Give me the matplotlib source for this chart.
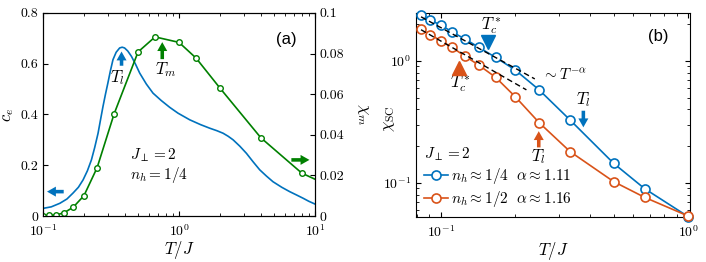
import numpy as np
import matplotlib
matplotlib.use("Agg")
import matplotlib.pyplot as plt
from matplotlib.ticker import FuncFormatter

plt.rcParams["font.family"] = "serif"
plt.rcParams["font.serif"] = ["cmr10", "DejaVu Serif"]
plt.rcParams["mathtext.fontset"] = "cm"
plt.rcParams["axes.formatter.use_mathtext"] = True
plt.rcParams["font.size"] = 9

blue = "#0072BD"
orange = "#D95319"
green = "#008000"

# ---- panel (a): specific heat c_e (left) and chi_m (right) ----
T_ce = [0.100, 0.115, 0.133, 0.150, 0.166, 0.182, 0.197, 0.212, 0.227, 0.240,
        0.254, 0.265, 0.276, 0.288, 0.300, 0.313, 0.327, 0.345, 0.366, 0.382,
        0.398, 0.420, 0.447, 0.480, 0.514, 0.575, 0.644, 0.740, 0.855, 0.984,
        1.199, 1.44, 1.68, 1.90, 2.11, 2.30, 2.50, 2.80, 3.13, 3.50,
        3.92, 4.40, 4.91, 5.70, 6.51, 7.30, 8.17, 9.00, 10.0]
c_e = [0.030, 0.036, 0.050, 0.067, 0.090, 0.113, 0.142, 0.178, 0.221, 0.270,
       0.326, 0.380, 0.431, 0.480, 0.524, 0.572, 0.616, 0.645, 0.662, 0.665,
       0.662, 0.650, 0.629, 0.597, 0.563, 0.520, 0.484, 0.455, 0.428, 0.405,
       0.379, 0.360, 0.346, 0.336, 0.326, 0.314, 0.300, 0.275, 0.247, 0.214,
       0.182, 0.157, 0.135, 0.113, 0.096, 0.083, 0.070, 0.058, 0.047]

T_chi = [0.1, 1/9, 0.125, 1/7, 1/6, 0.2, 0.25, 1/3, 0.5, 2/3, 1.0, 4/3, 2.0, 4.0, 8.0, 16.0]
chi_m = [0.0, 0.0003, 0.0005, 0.0016, 0.0043, 0.0100, 0.0238, 0.0503, 0.0808,
         0.0882, 0.0855, 0.0778, 0.0630, 0.0385, 0.0211, 0.0118]

# ---- panel (b): chi_SC ----
T_sc = [1/12, 1/11, 1/10, 1/9, 1/8, 1/7, 1/6, 1/5, 1/4, 1/3, 1/2, 2/3, 1.0]
chi_q = [2.39, 2.15, 1.98, 1.73, 1.52, 1.29, 1.07, 0.843, 0.578, 0.327, 0.144, 0.0893, 0.0526]
chi_h = [1.82, 1.636, 1.47, 1.29, 1.10, 0.921, 0.734, 0.509, 0.311, 0.180, 0.102, 0.0758, 0.0532]
alpha = [1.11, 1.16]
amp = [0.146, 0.101]
fit_range = [(1/12, 0.24), (1/12, 0.222)]

fig = plt.figure(figsize=(7.06, 2.62), dpi=100)

# panel (a)
ax = fig.add_axes([0.0609, 0.1756, 0.3853, 0.775])
ax.plot(T_ce, c_e, color=blue, lw=1.2)
ax.set_xscale("log")
ax.set_xlim(0.1, 10)
ax.set_ylim(0, 0.8)
ax.set_yticks([0, 0.2, 0.4, 0.6, 0.8])
ax.yaxis.set_major_formatter(FuncFormatter(lambda v, p: "%g" % v))
ax.set_xlabel(r"$T/J$", fontsize=12, labelpad=0)
ax.set_ylabel(r"$c_e$", fontsize=12)
ax.yaxis.set_label_coords(-0.1, 0.5)
ax.tick_params(which="both", direction="in", top=True, right=False, labelsize=10)
ax.tick_params(axis="x", pad=5)

ax2 = ax.twinx()
ax2.plot(T_chi, chi_m, color=green, lw=1.2, marker="o", ms=4,
         mfc="white", mec=green, mew=1.0)
ax2.set_ylim(0, 0.1)
ax2.set_yticks([0, 0.02, 0.04, 0.06, 0.08, 0.1])
ax2.yaxis.set_major_formatter(FuncFormatter(lambda v, p: "%g" % v))
ax2.set_ylabel(r"$\chi_m$", fontsize=12, rotation=270, va="center")
ax2.yaxis.set_label_coords(1.176, 0.5)
ax2.tick_params(which="both", direction="in", labelsize=10)

arr = dict(arrowstyle="simple,head_width=0.45,head_length=0.4,tail_width=0.16",
           lw=0, mutation_scale=16, shrinkA=0, shrinkB=0)
ax.annotate("", xy=(0.378, 0.648), xytext=(0.378, 0.592),
            arrowprops=dict(arr, color=blue))
ax.text(0.351, 0.545, r"$T_l$", fontsize=12, ha="center", va="center")
ax.annotate("", xy=(0.753, 0.685), xytext=(0.753, 0.618),
            arrowprops=dict(arr, color=green))
ax.text(0.80, 0.576, r"$T_m$", fontsize=12, ha="center", va="center")
ax.annotate("", xy=(0.107, 0.096), xytext=(0.142, 0.096),
            arrowprops=dict(arr, color=blue))
ax.annotate("", xy=(9.1, 0.221), xytext=(6.7, 0.221),
            arrowprops=dict(arr, color=green))
ax.text(0.435, 0.241, r"$J_\perp = 2$", fontsize=11, va="center")
ax.text(0.435, 0.162, r"$n_h = 1/4$", fontsize=11, va="center")
ax.text(6.2, 0.695, "(a)", family="Liberation Sans", fontsize=12,
        ha="center", va="center")

# panel (b)
bx = fig.add_axes([0.5892, 0.1718, 0.3881, 0.779])
labels = [r"$n_h \approx 1/4\ \ \alpha \approx 1.11$",
          r"$n_h \approx 1/2\ \ \alpha \approx 1.16$"]
for data, col, lab in zip([chi_q, chi_h], [blue, orange], labels):
    bx.plot(T_sc, data, color=col, lw=1.2, marker="o", ms=6.5,
            mfc="white", mec=col, mew=1.2, label=lab, clip_on=False, zorder=3)
for a, A, (t0, t1) in zip(alpha, amp, fit_range):
    tt = np.array([t0, t1])
    bx.plot(tt, A * tt ** (-a), color="black", ls=(0, (4, 2.5)), lw=1.0, zorder=4)
bx.set_xscale("log")
bx.set_yscale("log")
bx.set_xlim(0.0795, 1.016)
bx.set_ylim(0.0523, 2.48)
bx.set_xlabel(r"$T/J$", fontsize=12, labelpad=0)
bx.set_ylabel(r"$\chi_{\rm SC}$", fontsize=12)
bx.yaxis.set_label_coords(-0.07, 0.48)
bx.tick_params(which="both", direction="in", top=True, right=True, labelsize=10)
bx.tick_params(axis="x", pad=5)

bx.plot([0.156], [1.44], marker="v", ms=10, color=blue, ls="none", zorder=5)
bx.text(0.16, 1.92, r"$T_c^*$", fontsize=12, ha="center", va="center")
bx.plot([0.119], [0.87], marker="^", ms=10, color=orange, ls="none", zorder=5)
bx.text(0.12, 0.635, r"$T_c^*$", fontsize=12, ha="center", va="center")
bx.text(0.256, 0.767, r"$\sim T^{-\alpha}$", fontsize=11, ha="left", va="center")
bx.annotate("", xy=(0.377, 0.285), xytext=(0.377, 0.39),
            arrowprops=dict(arr, color=blue))
bx.text(0.377, 0.478, r"$T_l$", fontsize=12, ha="center", va="center")
bx.annotate("", xy=(0.249, 0.265), xytext=(0.249, 0.195),
            arrowprops=dict(arr, color=orange))
bx.text(0.249, 0.163, r"$T_l$", fontsize=12, ha="center", va="center")
bx.text(0.757, 1.58, "(b)", family="Liberation Sans", fontsize=12,
        ha="center", va="center")

leg = bx.legend(loc="lower left", frameon=False, title=r"$J_\perp = 2$",
                fontsize=11, title_fontsize=11, handlelength=1.6,
                handletextpad=0.2, borderaxespad=0.2, labelspacing=0.2,
                alignment="left", borderpad=0.3)

fig.savefig("out.png", dpi=100)
